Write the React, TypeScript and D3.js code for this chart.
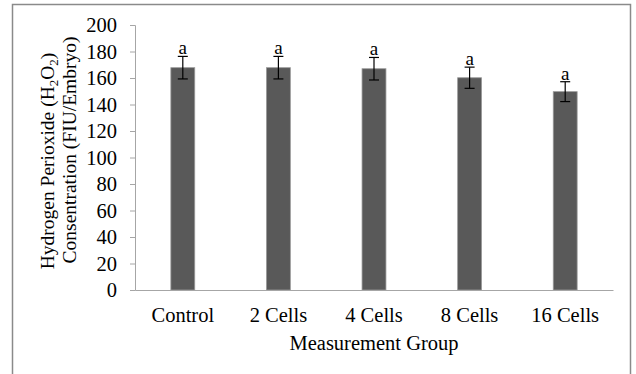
import React, { useRef, useEffect } from "react";
import * as d3 from "d3";

const groups = ["Control", "2 Cells", "4 Cells", "8 Cells", "16 Cells"];
const means = [167.8, 167.8, 167, 160.2, 149.7];
const errors = [8.5, 8.5, 8.5, 8, 7.5];
const letters = ["a", "a", "a", "a", "a"];
const yTicks = [0, 20, 40, 60, 80, 100, 120, 140, 160, 180, 200];

const App = () => {
  const chartRef = useRef<SVGSVGElement>(null);

  useEffect(() => {
    const width = 636;
    const height = 374;
    const margin = { top: 25, right: 23, bottom: 84, left: 135 };
    const font = "'Liberation Serif', 'Times New Roman', serif";

    const svg = d3.select(chartRef.current);
    svg.selectAll("*").remove();

    // cadre extérieur
    svg
      .append("rect")
      .attr("x", 12.5)
      .attr("y", 4.5)
      .attr("width", 618)
      .attr("height", 400)
      .attr("fill", "none")
      .attr("stroke", "#8a8a8a")
      .attr("stroke-width", 1.5);

    const xScale = d3
      .scaleBand()
      .domain(groups)
      .range([margin.left, width - margin.right]);

    const yScale = d3
      .scaleLinear()
      .domain([0, 200])
      .range([height - margin.bottom, margin.top]);

    const barWidth = xScale.bandwidth() * 0.25;

    // barres
    svg
      .selectAll("rect.bar")
      .data(groups)
      .enter()
      .append("rect")
      .attr("class", "bar")
      .attr("x", (d) => xScale(d)! + xScale.bandwidth() / 2 - barWidth / 2)
      .attr("y", (d, i) => yScale(means[i]))
      .attr("width", barWidth)
      .attr("height", (d, i) => yScale(0) - yScale(means[i]))
      .attr("fill", "#595959")
      .attr("stroke", "#9a9a9a")
      .attr("stroke-width", 0.8);

    // barres d'erreur
    const err = svg.append("g").attr("stroke", "#000").attr("stroke-width", 1.2);
    groups.forEach((g, i) => {
      const cx = xScale(g)! + xScale.bandwidth() / 2;
      const top = yScale(means[i] + errors[i]);
      const bot = yScale(means[i] - errors[i]);
      err.append("line").attr("x1", cx).attr("x2", cx).attr("y1", top).attr("y2", bot);
      err.append("line").attr("x1", cx - 5).attr("x2", cx + 5).attr("y1", top).attr("y2", top);
      err.append("line").attr("x1", cx - 5).attr("x2", cx + 5).attr("y1", bot).attr("y2", bot);
    });

    // lettres
    svg
      .selectAll("text.letter")
      .data(groups)
      .enter()
      .append("text")
      .attr("class", "letter")
      .attr("x", (d) => xScale(d)! + xScale.bandwidth() / 2)
      .attr("y", (d, i) => yScale(means[i] + errors[i]) - 2)
      .attr("text-anchor", "middle")
      .style("font-family", font)
      .style("font-size", "19px")
      .text((d, i) => letters[i]);

    // axe y
    const yAxis = svg
      .append("g")
      .attr("transform", `translate(${margin.left},0)`)
      .call(d3.axisLeft(yScale).tickValues(yTicks).tickSize(5).tickPadding(13));
    yAxis.select(".domain").attr("stroke", "#a6a6a6");
    yAxis.selectAll(".tick line").attr("stroke", "#a6a6a6");
    yAxis
      .selectAll(".tick text")
      .attr("fill", "#000")
      .style("font-family", font)
      .style("font-size", "20.5px");

    // axe x
    const xAxis = svg
      .append("g")
      .attr("transform", `translate(0,${height - margin.bottom})`)
      .call(d3.axisBottom(xScale).tickSize(0).tickPadding(17).tickSizeOuter(0));
    xAxis.select(".domain").attr("stroke", "#a6a6a6");
    xAxis
      .selectAll(".tick text")
      .attr("fill", "#000")
      .style("font-family", font)
      .style("font-size", "20.5px");

    // titre axe x
    svg
      .append("text")
      .attr("x", (margin.left + width - margin.right) / 2)
      .attr("y", 350)
      .attr("text-anchor", "middle")
      .style("font-family", font)
      .style("font-size", "20.5px")
      .text("Measurement Group");

    // titre axe y
    const yTitle = svg
      .append("text")
      .attr("text-anchor", "middle")
      .attr("transform", "rotate(-90)")
      .style("font-family", font)
      .style("font-size", "19.5px");
    const line1 = yTitle.append("tspan").attr("x", -161).attr("y", 54);
    line1.append("tspan").text("Hydrogen Perioxide (H");
    line1.append("tspan").style("font-size", "13px").attr("dy", 4).text("2");
    line1.append("tspan").attr("dy", -4).text("O");
    line1.append("tspan").style("font-size", "13px").attr("dy", 4).text("2");
    line1.append("tspan").attr("dy", -4).text(")");
    yTitle
      .append("tspan")
      .attr("x", -150)
      .attr("y", 76)
      .text("Consentration (FIU/Embryo)");
  }, []);

  return (
    <svg
      ref={chartRef}
      width={636}
      height={374}
      style={{ position: "absolute", left: 0, top: 0, background: "#fff" }}
    />
  );
};

export default App;
